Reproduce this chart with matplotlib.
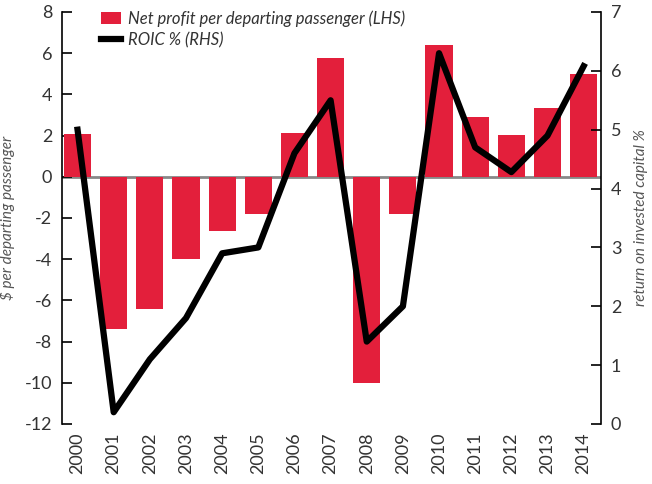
import numpy as np
import matplotlib.pyplot as plt

plt.rcParams['font.family'] = ['Lato', 'DejaVu Sans']
plt.rcParams['axes.unicode_minus'] = False

years = ['2000', '2001', '2002', '2003', '2004', '2005', '2006', '2007',
         '2008', '2009', '2010', '2011', '2012', '2013', '2014']
net_profit = [2.1, -7.4, -6.4, -4.0, -2.65, -1.8, 2.15, 5.75,
              -10.0, -1.8, 6.4, 2.9, 2.05, 3.35, 5.0]
roic = [5.0, 0.2, 1.1, 1.8, 2.9, 3.0, 4.6, 5.5,
        1.4, 2.0, 6.3, 4.7, 4.28, 4.9, 6.08]

red = '#e31f3b'
txt = '#333333'

fig = plt.figure(figsize=(6.52, 4.84), dpi=100)
ax = fig.add_axes([62 / 652, 60 / 484, 539 / 652, 412 / 484])
x = np.arange(len(years))

bars = ax.bar(x, net_profit, width=0.75, color=red, zorder=2,
              label='Net profit per departing passenger (LHS)')
ax.axhline(0, color='#888888', lw=2, zorder=1)
ax.set_ylim(-12, 8)
ax.set_yticks(np.arange(-12, 9, 2))
ax.set_xlim(-0.43, 14.48)
ax.set_xticks(x)
ax.set_xticklabels(years, rotation=90, fontsize=13, color=txt)
ax.tick_params(axis='x', length=0, pad=6)
ax.tick_params(axis='y', direction='in', length=7, width=1.2, labelsize=13,
               labelcolor=txt, pad=7)
ax.set_ylabel('$ per departing passenger', fontsize=11, style='italic',
              color='#555555')
ax.yaxis.set_label_coords(-0.087, 0.5)
for s in ['top', 'bottom', 'right']:
    ax.spines[s].set_visible(False)
ax.spines['left'].set_linewidth(1.2)

ax2 = ax.twinx()
line, = ax2.plot(x, roic, color='black', lw=4.5, zorder=3,
                 label='ROIC % (RHS)')
ax2.set_ylim(0, 7)
ax2.set_yticks(range(0, 8))
ax2.tick_params(axis='y', direction='in', length=7, width=1.2, labelsize=13,
                labelcolor=txt, pad=7)
ax2.set_ylabel('return on invested capital %', fontsize=11, style='italic',
               color='#555555')
ax2.yaxis.set_label_coords(1.062, 0.5)
for s in ['top', 'bottom', 'left']:
    ax2.spines[s].set_visible(False)
ax2.spines['right'].set_linewidth(1.2)

leg = ax2.legend([bars, line], [bars.get_label(), line.get_label()],
                 loc='upper left', bbox_to_anchor=(0.06, 1.02), frameon=False,
                 prop={'size': 12, 'style': 'italic'}, handlelength=1.2,
                 handletextpad=0.4, labelspacing=0.3, borderaxespad=0)
for t in leg.get_texts():
    t.set_color(txt)

fig.savefig('out.png', dpi=100)
